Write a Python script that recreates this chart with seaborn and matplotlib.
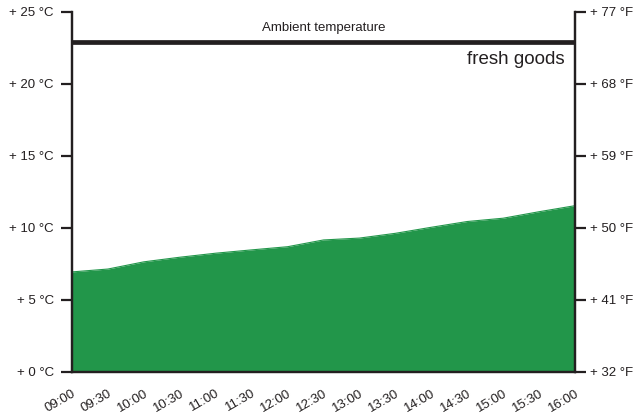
import numpy as np
import pandas as pd
import matplotlib
matplotlib.use('Agg')
import matplotlib.pyplot as plt
import seaborn as sns

# time of day and temperature of the fresh goods (deg C)
times = ['09:00', '09:30', '10:00', '10:30', '11:00', '11:30', '12:00', '12:30',
         '13:00', '13:30', '14:00', '14:30', '15:00', '15:30', '16:00']
goods_temp = [6.95, 7.15, 7.65, 7.97, 8.25, 8.48, 8.7, 9.17,
              9.3, 9.63, 10.05, 10.45, 10.68, 11.13, 11.55]
ambient_temp = 22.9

c_ticks = [0, 5, 10, 15, 20, 25]
c_labels = ['+ 0 °C', '+ 5 °C', '+ 10 °C', '+ 15 °C', '+ 20 °C', '+ 25 °C']
f_labels = ['+ 32 °F', '+ 41 °F', '+ 50 °F', '+ 59 °F', '+ 68 °F', '+ 77 °F']

GREEN = '#22964a'
DARK = '#231f20'

sns.set_style('white')
plt.rcParams['font.family'] = ['Liberation Sans Narrow', 'Liberation Sans', 'DejaVu Sans']

df = pd.DataFrame({'pos': np.arange(len(times)), 'temp': goods_temp})

fig = plt.figure(figsize=(6.43, 4.16), dpi=100)
ax = fig.add_axes([72 / 643, 44 / 416, 503 / 643, 360 / 416])

sns.lineplot(data=df, x='pos', y='temp', ax=ax, color=GREEN, linewidth=0.8)
ax.fill_between(df['pos'], 0, df['temp'], color=GREEN, linewidth=0)

ax.axhline(ambient_temp, color=DARK, linewidth=3.4, zorder=5)
ax.text((len(times) - 1) / 2, 23.9, 'Ambient temperature', ha='center', va='center',
        fontsize=9.5, color=DARK)
ax.text(13.72, 21.7, 'fresh goods', ha='right', va='center',
        fontsize=13.5, color=DARK)

ax.set_xlim(0, len(times) - 1)
ax.set_ylim(0, 25)
ax.set_xticks(df['pos'])
ax.set_xticklabels(times, rotation=30, ha='right', rotation_mode='anchor', fontsize=9.5)
ax.set_yticks(c_ticks)
ax.set_yticklabels(c_labels, fontsize=9.5)
ax.set_xlabel('')
ax.set_ylabel('')

ax2 = ax.twinx()
ax2.set_ylim(0, 25)
ax2.set_yticks(c_ticks)
ax2.set_yticklabels(f_labels, fontsize=9.5)

for a in (ax, ax2):
    a.spines['top'].set_visible(False)
    for s in ('left', 'right', 'bottom'):
        a.spines[s].set_color(DARK)
        a.spines[s].set_linewidth(1.6)
    a.tick_params(axis='both', colors=DARK, width=1.6, length=8, labelcolor=DARK)
ax.tick_params(axis='x', pad=3)
ax.tick_params(axis='y', pad=5)
ax2.tick_params(axis='y', pad=3)

fig.savefig('out.png', dpi=100)
